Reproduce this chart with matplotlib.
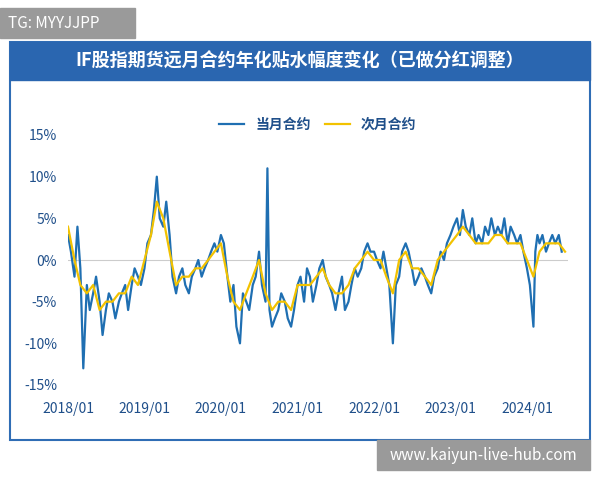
import pandas as pd
import matplotlib
matplotlib.use("Agg")
import matplotlib.pyplot as plt
from matplotlib.patches import Rectangle

plt.rcParams['font.family'] = ['Noto Sans CJK SC', 'DejaVu Sans']

# ── Data (%) ─────────────────────────────────────────────────────────────────
cur_dates = [
    "2018-01-01", "2018-01-15", "2018-02-01", "2018-02-15", "2018-03-01", "2018-03-15",
    "2018-04-01", "2018-04-15", "2018-05-01", "2018-05-15", "2018-06-01", "2018-06-15",
    "2018-07-01", "2018-07-15", "2018-08-01", "2018-08-15", "2018-09-01", "2018-09-15",
    "2018-10-01", "2018-10-15", "2018-11-01", "2018-11-15", "2018-12-01", "2018-12-15",
    "2019-01-01", "2019-01-15", "2019-02-01", "2019-02-15", "2019-03-01", "2019-03-15",
    "2019-04-01", "2019-04-15", "2019-05-01", "2019-05-15", "2019-06-01", "2019-06-15",
    "2019-07-01", "2019-07-15", "2019-08-01", "2019-08-15", "2019-09-01", "2019-09-15",
    "2019-10-01", "2019-10-15", "2019-11-01", "2019-11-15", "2019-12-01", "2019-12-15",
    "2020-01-01", "2020-01-15", "2020-02-01", "2020-02-15", "2020-03-01", "2020-03-15",
    "2020-04-01", "2020-04-15", "2020-05-01", "2020-05-15", "2020-06-01", "2020-06-15",
    "2020-07-01", "2020-07-15", "2020-08-01", "2020-08-10", "2020-08-20", "2020-09-01",
    "2020-09-15", "2020-10-01", "2020-10-15", "2020-11-01", "2020-11-15", "2020-12-01",
    "2020-12-15",
    "2021-01-01", "2021-01-15", "2021-02-01", "2021-02-15", "2021-03-01", "2021-03-15",
    "2021-04-01", "2021-04-15", "2021-05-01", "2021-05-15", "2021-06-01", "2021-06-15",
    "2021-07-01", "2021-07-15", "2021-08-01", "2021-08-15", "2021-09-01", "2021-09-15",
    "2021-10-01", "2021-10-15", "2021-11-01", "2021-11-15", "2021-12-01", "2021-12-15",
    "2022-01-01", "2022-01-15", "2022-02-01", "2022-02-15", "2022-03-01", "2022-03-15",
    "2022-04-01", "2022-04-15", "2022-05-01", "2022-05-15", "2022-06-01", "2022-06-15",
    "2022-07-01", "2022-07-15", "2022-08-01", "2022-08-15", "2022-09-01", "2022-09-15",
    "2022-10-01", "2022-10-15", "2022-11-01", "2022-11-15", "2022-12-01", "2022-12-15",
    "2023-01-01", "2023-01-15", "2023-02-01", "2023-02-15", "2023-03-01", "2023-03-15",
    "2023-04-01", "2023-04-15", "2023-05-01", "2023-05-15", "2023-06-01", "2023-06-15",
    "2023-07-01", "2023-07-15", "2023-08-01", "2023-08-15", "2023-09-01", "2023-09-15",
    "2023-10-01", "2023-10-15", "2023-11-01", "2023-11-15", "2023-12-01", "2023-12-15",
    "2024-01-01", "2024-01-15", "2024-02-01", "2024-02-10", "2024-02-20", "2024-03-01",
    "2024-03-15", "2024-04-01", "2024-04-15", "2024-05-01", "2024-05-15", "2024-06-01",
    "2024-06-15",
]
cur_vals = [
    3, 1, -2, 4, -1, -13, -3, -6, -4, -2, -5, -9, -6, -4, -5, -7, -5, -4, -3, -6, -3, -1, -2, -3,
    -1, 2, 3, 6, 10, 5, 4, 7, 3, -2, -4, -2, -1, -3, -4, -2, -1, 0, -2, -1, 0, 1, 2, 1,
    3, 2, -2, -5, -3, -8, -10, -4, -5, -6, -3, -2, 1, -3, -5, 11, -6, -8, -7, -6, -4, -5, -7, -8, -6,
    -3, -2, -5, -1, -2, -5, -3, -1, 0, -2, -3, -4, -6, -4, -2, -6, -5, -3, -1, -2, -1, 1, 2, 1,
    1, 0, -1, 1, -1, -3, -10, -3, -2, 1, 2, 1, -1, -3, -2, -1, -2, -3, -4, -2, -1, 1, 0, 2,
    3, 4, 5, 3, 6, 4, 3, 5, 2, 3, 2, 4, 3, 5, 3, 4, 3, 5, 2, 4, 3, 2, 3, 1,
    -1, -3, -8, 1, 3, 2, 3, 1, 2, 3, 2, 3, 1,
]

next_dates = pd.date_range("2018-01-01", "2024-07-01", freq="MS")
next_vals = [
    4, 0, -3, -4, -3, -6, -5, -5, -4, -4, -2, -3,
    0, 3, 7, 5, 1, -3, -2, -2, -1, -1, 0, 1,
    2, -2, -5, -6, -4, -2, 0, -4, -6, -5, -5, -6,
    -3, -3, -3, -2, -1, -3, -4, -4, -3, -1, 0, 1,
    0, 0, -2, -4, 0, 1, -1, -1, -2, -3, 0, 1,
    2, 3, 4, 3, 2, 2, 2, 3, 3, 2, 2, 2,
    0, -2, 1, 2, 2, 2, 1,
]

yticks = [-15, -10, -5, 0, 5, 10, 15]
xticks = ["2018/01", "2019/01", "2020/01", "2021/01", "2022/01", "2023/01", "2024/01"]

BLUE = "#1f6fb2"
GOLD = "#f2c200"

# ── Figure ───────────────────────────────────────────────────────────────────
fig = plt.figure(figsize=(6, 4.8), dpi=100)
fig.patch.set_facecolor("white")

# frame and title banner
fig.patches.append(Rectangle((10 / 600, 1 - 440 / 480), 580 / 600, 398 / 480,
                             transform=fig.transFigure, fill=False,
                             edgecolor="#2f6db5", linewidth=1.5))
fig.patches.append(Rectangle((10 / 600, 1 - 80 / 480), 580 / 600, 38 / 480,
                             transform=fig.transFigure, color="#2a66b0"))
fig.text(0.5, 1 - 61 / 480, "IF股指期货远月合约年化贴水幅度变化（已做分红调整）",
         ha="center", va="center", color="white", fontsize=13, fontweight="bold")

ax = fig.add_axes([68 / 600, 1 - 385 / 480, 500 / 600, 250 / 480])
ax.plot(pd.to_datetime(cur_dates), cur_vals, color=BLUE, lw=1.6, label="当月合约")
ax.plot(next_dates, next_vals, color=GOLD, lw=1.6, label="次月合约")
ax.axhline(0, color="#cccccc", lw=0.8, zorder=0)

ax.set_ylim(-15, 15)
ax.set_yticks(yticks)
ax.set_yticklabels([f"{v}%" for v in yticks])
ax.set_xlim(pd.Timestamp("2018-01-01"), pd.Timestamp("2024-07-15"))
ax.set_xticks(pd.to_datetime([t.replace("/", "-") + "-01" for t in xticks]))
ax.set_xticklabels(xticks)
ax.tick_params(length=0, labelsize=10, colors="#1f4f8a")
ax.tick_params(axis="x", pad=12)
ax.tick_params(axis="y", pad=8)
for s in ax.spines.values():
    s.set_visible(False)

ax.legend(loc="upper center", bbox_to_anchor=(0.5, 1.12), ncol=2, frameon=False,
          handlelength=1.8, columnspacing=1.0, labelcolor="#1f4f8a",
          prop={"weight": "bold", "size": 10})

# watermarks
fig.patches.append(Rectangle((0, 1 - 38 / 480), 135 / 600, 30 / 480,
                             transform=fig.transFigure, color="#9a9a9a"))
fig.text(8 / 600, 1 - 23 / 480, "TG: MYYJJPP", color="white", fontsize=11, va="center")
fig.patches.append(Rectangle((377 / 600, 1 - 470 / 480), 213 / 600, 30 / 480,
                             transform=fig.transFigure, color="#9a9a9a"))
fig.text(483 / 600, 1 - 455 / 480, "www.kaiyun-live-hub.com", color="white",
         fontsize=11, va="center", ha="center")

fig.savefig("out.png", dpi=100)
